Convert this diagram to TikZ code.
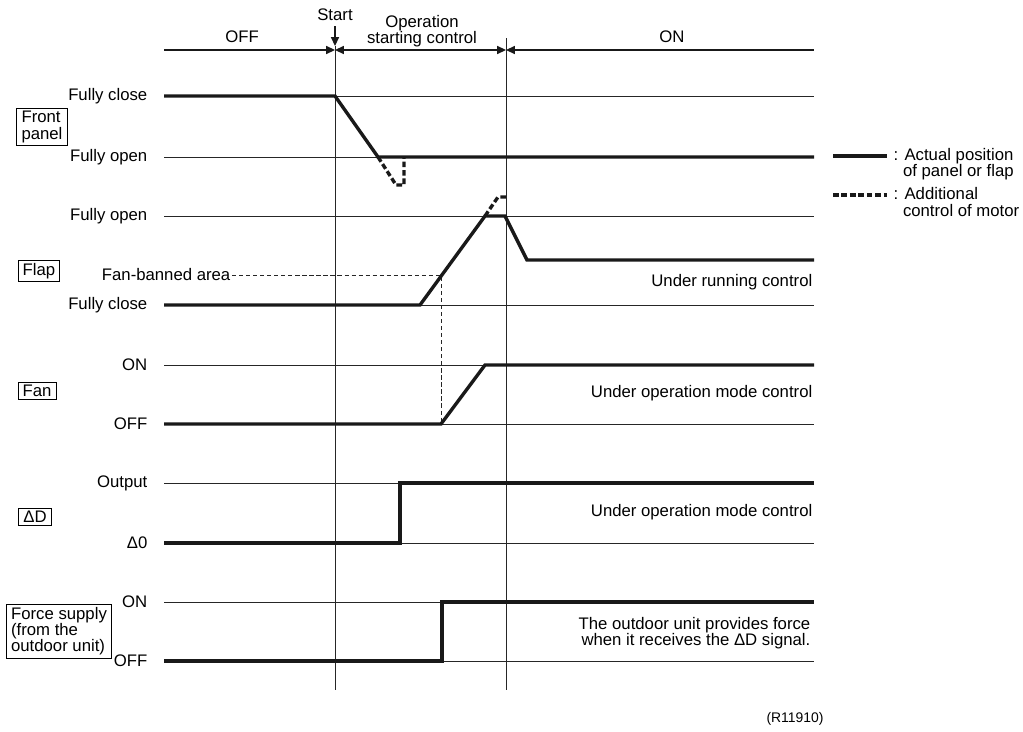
\documentclass[tikz,border=0pt]{standalone}
\usepackage{fontspec}
\setmainfont{Liberation Sans}
\usetikzlibrary{arrows.meta}

\begin{document}
\begin{tikzpicture}[
            x=0.025cm, y=-0.025cm,
            font=\fontsize{11.9}{11.6}\selectfont,
            >={Triangle[length=0.22cm, width=0.2cm]},
            rail/.style={line width=0.6pt, black!85},
            sig/.style={line width=2.4pt, black!90},
            sigdash/.style={sig, dash pattern=on 4pt off 2pt},
            fanguide/.style={line width=0.6pt, black!85, dash pattern=on 3pt off 2pt},
            phasearrow/.style={line width=0.9pt, black!90},
            lvllabel/.style={anchor=east, inner sep=1pt},
            sigbox/.style={draw, line width=0.6pt, align=left, inner xsep=3.3pt, inner ysep=2pt},
            remark/.style={anchor=east, align=right, inner sep=1pt}
            ]
            \useasboundingbox (0,0) rectangle (1023,731);

            % Phases along the top
            \coordinate (t0) at (164,50);
            \coordinate (tstart) at (335,50);
            \coordinate (ton) at (506,50);
            \coordinate (tend) at (814,50);
            \draw[phasearrow, ->] (t0) -- (tstart);
            \draw[phasearrow, <->] (tstart) -- (ton);
            \draw[phasearrow, <-] (ton) -- (tend);
            \node (off) at (242,37) {OFF};
            \node (opctrl) at (422,31) [align=center] {Operation\\starting control};
            \node (on) at (672,37) {ON};
            \node (start) at (335,15) {Start};
            \draw[phasearrow, ->] (335,26) -- (335,46);

            % Time markers
            \draw[rail] (335,46) -- (335,690);
            \draw[rail] (506,38) -- (506,690);

            % Front panel
            \node[sigbox] (panel) at (42,127) {Front\\panel};
            \node[lvllabel] (pclose) at (149,96) {Fully close};
            \node[lvllabel] (popen) at (149,157) {Fully open};
            \draw[rail] (164,96) -- (814,96);
            \draw[rail] (164,157) -- (814,157);
            \draw[sig] (164,96) -- (335,96) -- (378,157) -- (814,157);
            \draw[sigdash] (378,157) -- (396,185) -- (404,185) -- (404,157);

            % Legend
            \draw[sig] (833,156) -- (887,156);
            \draw[sigdash] (833,195) -- (887,195);
            \node[anchor=west, align=left, inner sep=1pt] (actual) at (892,164) {: Actual position\\\phantom{:\ }of panel or flap};
            \node[anchor=west, align=left, inner sep=1pt] (additional) at (892,202) {: Additional\\\phantom{:\ }control of motor};

            % Flap
            \node[sigbox] (flap) at (39,271) {Flap};
            \node[lvllabel] (fopen) at (149,216) {Fully open};
            \node[lvllabel] (fban) at (232,275) {Fan-banned area};
            \node[lvllabel] (fclose) at (149,305) {Fully close};
            \draw[rail] (164,216) -- (814,216);
            \draw[rail] (164,305) -- (814,305);
            \draw[fanguide] (fban.east) -- (441,275) -- (441,424);
            \draw[sig] (164,305) -- (420,305) -- (485,216) -- (505,216) -- (527,260) -- (814,260);
            \draw[sigdash] (485,216) -- (498,197) -- (507,197);
            \node[remark] (running) at (814,282) {Under running control};

            % Fan
            \node[sigbox] (fan) at (37,391) {Fan};
            \node[lvllabel] (fanon) at (149,365) {ON};
            \node[lvllabel] (fanoff) at (149,424) {OFF};
            \draw[rail] (164,365) -- (814,365);
            \draw[rail] (164,424) -- (814,424);
            \draw[sig] (164,424) -- (441,424) -- (485,365) -- (814,365);
            \node[remark] (fanmode) at (814,393) {Under operation mode control};

            % Delta D
            \node[sigbox] (dd) at (35,517) {ΔD};
            \node[lvllabel] (ddout) at (149,483) {Output};
            \node[lvllabel] (ddzero) at (149,543) {Δ0};
            \draw[rail] (164,483) -- (814,483);
            \draw[rail] (164,543) -- (814,543);
            \draw[sig] (164,543) -- (400,543) -- (400,483) -- (814,483);
            \node[remark] (ddmode) at (814,512) {Under operation mode control};

            % Force supply
            \node[sigbox] (force) at (59,631) {Force supply\\(from the\\outdoor unit)};
            \node[lvllabel] (forceon) at (149,602) {ON};
            \node[lvllabel] (forceoff) at (149,661) {OFF};
            \draw[rail] (164,602) -- (814,602);
            \draw[rail] (164,661) -- (814,661);
            \draw[sig] (164,661) -- (442,661) -- (442,602) -- (814,602);
            \node[remark] (forcenote) at (812,633) {The outdoor unit provides force\\when it receives the ΔD signal.};

            \node[font=\fontsize{9.9}{11}\selectfont] (ref) at (795,719) {(R11910)};

        \end{tikzpicture}
\end{document}
